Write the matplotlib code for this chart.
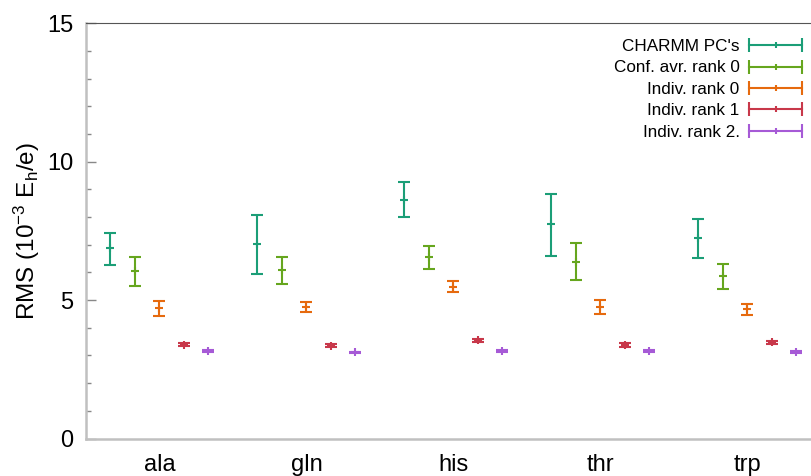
import numpy as np
import matplotlib
matplotlib.use('Agg')
import matplotlib.pyplot as plt
from matplotlib.lines import Line2D
from matplotlib.legend_handler import HandlerLine2D

plt.rcParams['font.family'] = ['Liberation Sans', 'DejaVu Sans']
plt.rcParams['mathtext.default'] = 'regular'

residues = ['ala', 'gln', 'his', 'thr', 'trp']
series = ["CHARMM PC's", 'Conf. avr. rank 0', 'Indiv. rank 0', 'Indiv. rank 1', 'Indiv. rank 2.']
colors = ['#1b9e77', '#66a61e', '#e66a0e', '#c8384a', '#a65ad6']

# mean, low, high per residue (10^-3 Eh/e)
charmm_mid = [6.87, 7.02, 8.62, 7.74, 7.23]
charmm_lo = [6.27, 5.96, 8.01, 6.61, 6.52]
charmm_hi = [7.44, 8.09, 9.25, 8.85, 7.94]

confavr_mid = [6.05, 6.07, 6.54, 6.38, 5.86]
confavr_lo = [5.51, 5.57, 6.13, 5.71, 5.41]
confavr_hi = [6.56, 6.56, 6.94, 7.05, 6.30]

rank0_mid = [4.70, 4.76, 5.49, 4.75, 4.69]
rank0_lo = [4.43, 4.58, 5.29, 4.48, 4.47]
rank0_hi = [4.96, 4.94, 5.69, 4.99, 4.87]

rank1_mid = [3.39, 3.35, 3.55, 3.38, 3.47]
rank1_lo = [3.33, 3.29, 3.49, 3.32, 3.41]
rank1_hi = [3.45, 3.41, 3.61, 3.44, 3.53]

rank2_mid = [3.17, 3.11, 3.15, 3.16, 3.13]
rank2_lo = [3.14, 3.08, 3.12, 3.13, 3.10]
rank2_hi = [3.20, 3.14, 3.18, 3.19, 3.16]

data = [(charmm_mid, charmm_lo, charmm_hi),
        (confavr_mid, confavr_lo, confavr_hi),
        (rank0_mid, rank0_lo, rank0_hi),
        (rank1_mid, rank1_lo, rank1_hi),
        (rank2_mid, rank2_lo, rank2_hi)]

fig = plt.figure(figsize=(8.12, 4.76), dpi=100)
ax = fig.add_axes([86/812, 1-438.5/476, 735/812, (438.5-23.3)/476])

group = np.arange(len(residues)) * 6
handles = []
for s, (mid, lo, hi) in enumerate(data):
    mid = np.array(mid); lo = np.array(lo); hi = np.array(hi)
    ax.errorbar(group + s, mid, yerr=[mid - lo, hi - mid], fmt='+', color=colors[s],
                ms=6, mew=1.5, elinewidth=1.5, capsize=4, capthick=1.5)
    caps = Line2D([0], [0], color=colors[s], lw=1.5, marker='|', ms=10, mew=1.5)
    mark = Line2D([0], [0], color=colors[s], lw=0, marker='|', ms=5, mew=1.5)
    handles.append((caps, mark))

hmap = {}
for caps, mark in handles:
    hmap[caps] = HandlerLine2D(numpoints=2, marker_pad=0)
    hmap[mark] = HandlerLine2D(numpoints=1)

fig.legend(handles, series, handler_map=hmap, loc='upper right',
           bbox_to_anchor=(802/812, 1-39/476), frameon=False, markerfirst=False,
           fontsize=12.3, handlelength=3.1, handletextpad=0.55, labelspacing=0.38,
           borderpad=0, borderaxespad=0)

ax.set_xlim(-1, 29)
ax.set_ylim(0, 15)
ax.set_xticks(group + 2)
ax.set_xticklabels(residues)
ax.set_yticks([0, 5, 10, 15])
ax.set_yticks(np.arange(0, 16, 1), minor=True)
ax.tick_params(axis='x', length=0, labelsize=17, pad=11)
ax.tick_params(axis='y', which='major', direction='in', length=7, width=1, color='#888888', labelsize=17, pad=9)
ax.tick_params(axis='y', which='minor', direction='in', length=3.5, width=1, color='#888888')
ax.set_ylabel(r'RMS (10$^{-3}$ E$_h$/e)', fontsize=17.5, labelpad=4)

for side in ['left', 'bottom']:
    ax.spines[side].set_color('#c0c0c0')
    ax.spines[side].set_linewidth(1.8)
ax.spines['top'].set_color('#555555')
ax.spines['top'].set_linewidth(0.8)
ax.spines['right'].set_visible(False)

fig.savefig('out.png', dpi=100)
